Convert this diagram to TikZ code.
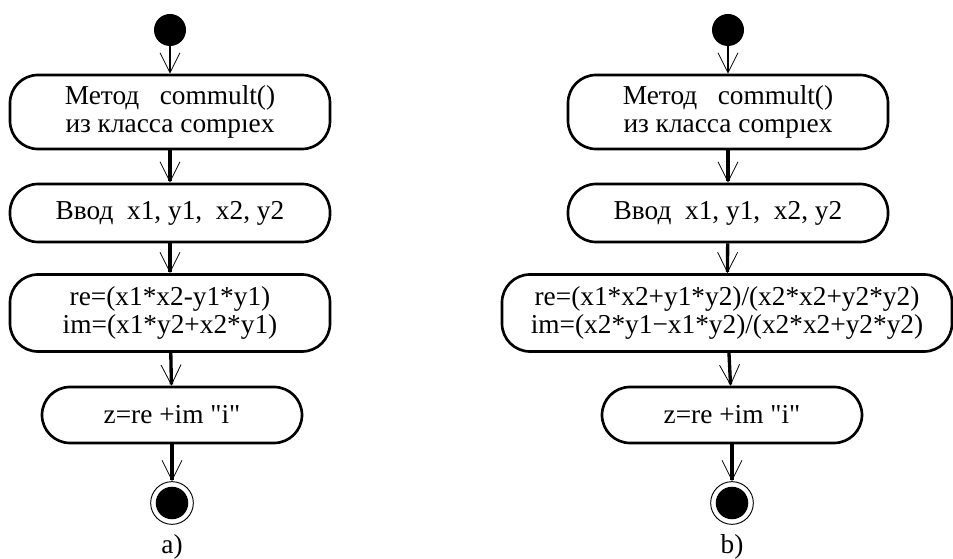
\documentclass[tikz,border=0pt]{standalone}
\usepackage{fontspec}
\setmainfont{Liberation Serif}[Ligatures=TeXOff]
\usetikzlibrary{arrows.meta}

\begin{document}
\begin{tikzpicture}[x=0.75pt, y=-0.75pt,
    every node/.style={font=\fontsize{20.5}{20.5}\selectfont},
    act/.style={draw, line width=2pt, rounded corners=21pt, align=center, inner sep=0pt},
    startnode/.style={circle, fill=black, minimum size=24pt, inner sep=0pt},
    endnode/.style={circle, draw, line width=0.7pt, minimum size=32pt, inner sep=0pt,
      path picture={\fill (path picture bounding box.center) circle (12.2pt);}},
    flow/.style={line width=2.5pt, -{Straight Barb[length=15pt, width=15pt, line width=0.6pt]}}]
  \useasboundingbox (0,0) rectangle (953,559);

  % 1. a) умножение
  \node[startnode] (sa) at (170,30) {};
  \node[act, minimum width=240pt, minimum height=55.5pt] (ma) at (170,112)
    {Метод~~~commult()\\из класса compıex};
  \node[act, minimum width=240pt, minimum height=43.5pt] (ia) at (170,213)
    {Ввод~~x1, y1,~~x2, y2};
  \node[act, minimum width=240pt, minimum height=57.75pt] (ca) at (170,313)
    {re=(x1*x2-y1*y1)\\im=(x1*y2+x2*y1)};
  \node[act, minimum width=195pt, minimum height=42pt] (za) at (172,415)
    {z=re +im "i"};
  \node[endnode] (ea) at (172,503) {};
  \node (la) at (172,547) {a)};

  \draw[flow, line width=1.5pt] (sa) -- (ma);
  \draw[flow] (ma) -- (ia);
  \draw[flow] (ia) -- (ca);
  \draw[flow] (ca) -- (za);
  \draw[flow] (za) -- (ea);

  % 2. b) деление
  \node[startnode] (sb) at (728,30) {};
  \node[act, minimum width=240pt, minimum height=55.5pt] (mb) at (728,112)
    {Метод~~~commult()\\из класса compıex};
  \node[act, minimum width=240pt, minimum height=43.5pt] (ib) at (728,213)
    {Ввод~~x1, y1,~~x2, y2};
  \node[act, minimum width=337.5pt, minimum height=57.75pt] (cb) at (727,313)
    {re=(x1*x2+y1*y2)/(x2*x2+y2*y2)\\im=(x2*y1−x1*y2)/(x2*x2+y2*y2)};
  \node[act, minimum width=195pt, minimum height=42pt] (zb) at (732,415)
    {z=re +im "i"};
  \node[endnode] (eb) at (732,503) {};
  \node (lb) at (732,547) {b)};

  \draw[flow, line width=1.5pt] (sb) -- (mb);
  \draw[flow] (mb) -- (ib);
  \draw[flow] (ib) -- (cb);
  \draw[flow] (cb) -- (zb);
  \draw[flow] (zb) -- (eb);
\end{tikzpicture}
\end{document}
